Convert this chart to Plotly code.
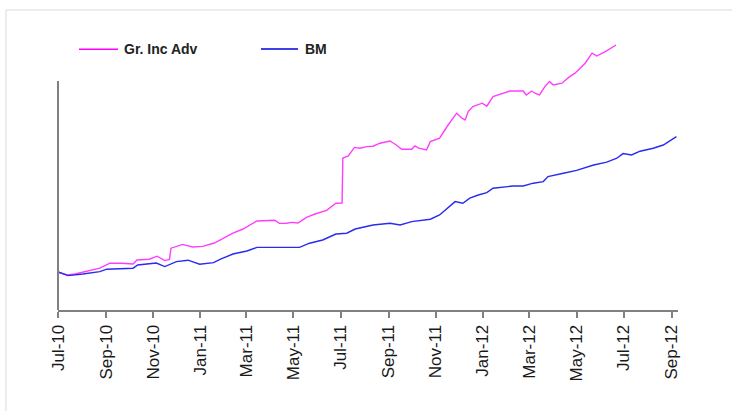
import plotly.graph_objects as go

# Cumulative index levels (start = 100)
fund_name = "Gr. Inc Adv"
bench_name = "BM"

fund_dates = [
    "2010-07-01", "2010-07-06", "2010-07-13", "2010-07-23", "2010-08-02", "2010-08-15",
    "2010-08-24", "2010-09-06", "2010-09-21", "2010-10-06", "2010-10-11", "2010-10-27",
    "2010-11-06", "2010-11-16", "2010-11-22", "2010-11-24", "2010-12-09", "2010-12-22",
    "2011-01-04", "2011-01-19", "2011-02-12", "2011-02-25", "2011-03-15", "2011-04-07",
    "2011-04-13", "2011-04-22", "2011-04-29", "2011-05-07", "2011-05-18", "2011-05-29",
    "2011-06-13", "2011-06-25", "2011-07-03", "2011-07-04", "2011-07-11", "2011-07-19",
    "2011-07-26", "2011-08-04", "2011-08-12", "2011-08-21", "2011-09-03", "2011-09-11",
    "2011-09-18", "2011-10-01", "2011-10-05", "2011-10-10", "2011-10-20", "2011-10-25",
    "2011-11-06", "2011-11-17", "2011-11-28", "2011-12-05", "2011-12-09", "2011-12-13",
    "2011-12-19", "2011-12-31", "2012-01-06", "2012-01-14", "2012-01-23", "2012-02-05",
    "2012-02-22", "2012-02-26", "2012-03-04", "2012-03-08", "2012-03-14", "2012-03-21",
    "2012-03-27", "2012-04-01", "2012-04-12", "2012-04-22", "2012-04-29", "2012-05-03",
    "2012-05-12", "2012-05-21", "2012-05-27", "2012-06-07", "2012-06-14", "2012-06-21",
]
fund_values = [
    100.0, 99.5, 98.5, 99.0, 99.9, 101.2,
    101.9, 104.4, 104.4, 104.0, 106.0, 106.4,
    107.9, 105.7, 106.3, 111.9, 113.8, 112.5,
    112.8, 114.5, 119.4, 121.5, 125.5, 125.9,
    124.3, 124.4, 124.8, 124.5, 127.3, 129.0,
    130.8, 134.4, 134.5, 157.0, 158.0, 162.3,
    161.9, 162.7, 162.9, 164.4, 165.5, 163.5,
    161.4, 161.4, 163.0, 161.9, 161.0, 165.2,
    166.9, 173.5, 179.4, 176.9, 176.0, 180.2,
    182.7, 184.4, 182.9, 187.7, 189.0, 190.5,
    190.5, 188.5, 190.5, 189.4, 188.5, 192.7,
    195.2, 193.5, 194.4, 197.7, 199.4, 201.0,
    204.4, 209.4, 208.0, 210.2, 211.9, 213.5,
]

bench_dates = [
    "2010-07-01", "2010-07-14", "2010-08-02", "2010-08-24", "2010-09-02", "2010-10-06",
    "2010-10-12", "2010-11-05", "2010-11-16", "2010-12-01", "2010-12-16", "2010-12-31",
    "2011-01-18", "2011-01-27", "2011-02-12", "2011-03-02", "2011-03-15", "2011-04-05",
    "2011-04-22", "2011-05-09", "2011-05-22", "2011-06-08", "2011-06-25", "2011-07-09",
    "2011-07-20", "2011-08-03", "2011-08-12", "2011-09-03", "2011-09-16", "2011-10-01",
    "2011-10-12", "2011-10-25", "2011-11-06", "2011-11-19", "2011-11-26", "2011-12-06",
    "2011-12-15", "2011-12-26", "2012-01-06", "2012-01-14", "2012-02-09", "2012-02-22",
    "2012-03-06", "2012-03-19", "2012-03-25", "2012-04-14", "2012-05-01", "2012-05-23",
    "2012-06-09", "2012-06-22", "2012-06-30", "2012-07-11", "2012-07-22", "2012-08-08",
    "2012-08-21", "2012-09-07",
]
bench_values = [
    100.0, 98.2, 99.0, 100.2, 101.4, 101.9,
    103.5, 104.5, 102.7, 105.2, 105.9, 103.9,
    104.7, 106.4, 109.0, 110.5, 112.3, 112.4,
    112.2, 112.3, 114.4, 116.0, 119.0, 119.4,
    121.5, 122.5, 123.5, 124.4, 123.5, 125.2,
    125.7, 126.4, 128.5, 132.7, 135.2, 134.4,
    136.9, 138.5, 139.7, 141.9, 143.0, 143.0,
    144.4, 145.2, 147.7, 149.4, 150.8, 153.5,
    154.9, 156.9, 159.2, 158.5, 160.4, 161.9,
    163.5, 167.7,
]

tick_dates = [
    "2010-07-01", "2010-09-01", "2010-11-01", "2011-01-01", "2011-03-01", "2011-05-01",
    "2011-07-01", "2011-09-01", "2011-11-01", "2012-01-01", "2012-03-01", "2012-05-01",
    "2012-07-01", "2012-09-01",
]
tick_labels = [
    "Jul-10", "Sep-10", "Nov-10", "Jan-11", "Mar-11", "May-11",
    "Jul-11", "Sep-11", "Nov-11", "Jan-12", "Mar-12", "May-12",
    "Jul-12", "Sep-12",
]

FUND_COLOR = "#FF3DFF"
BENCH_COLOR = "#2A2AF2"
AXIS_COLOR = "#808080"
FONT = "Liberation Sans, Arial, sans-serif"

fig = go.Figure()
fig.add_trace(go.Scatter(x=fund_dates, y=fund_values, mode="lines", name=fund_name,
                         line=dict(color=FUND_COLOR, width=1.4)))
fig.add_trace(go.Scatter(x=bench_dates, y=bench_values, mode="lines", name=bench_name,
                         line=dict(color=BENCH_COLOR, width=1.4)))

# plot-area geometry in pixels (used to place paper-coordinate decorations)
L, R, T, B, W, H = 58, 54, 40, 101, 732, 411
pw, ph = W - L - R, H - T - B

def px(x):
    return (x - L) / pw

def py(y):
    return (H - B - y) / ph

shapes = [
    # light outer frame (top and left edges)
    dict(type="line", xref="paper", yref="paper", x0=px(6), x1=px(732), y0=py(10), y1=py(10),
         line=dict(color="#E6E6E6", width=1.5)),
    dict(type="line", xref="paper", yref="paper", x0=px(6), x1=px(6), y0=py(10), y1=py(411),
         line=dict(color="#E6E6E6", width=1.5)),
    # value axis line (stops short of the plot top)
    dict(type="line", xref="paper", yref="paper", x0=0, x1=0, y0=0, y1=py(81),
         line=dict(color=AXIS_COLOR, width=2)),
    # legend keys
    dict(type="line", xref="paper", yref="paper", x0=px(79), x1=px(118), y0=py(49.3), y1=py(49.3),
         line=dict(color="#FF00FF", width=1.5)),
    dict(type="line", xref="paper", yref="paper", x0=px(261), x1=px(298), y0=py(49), y1=py(49),
         line=dict(color="#0000DD", width=1.5)),
]
annotations = [
    dict(xref="paper", yref="paper", x=px(122), y=py(49), text="<b>" + fund_name + "</b>",
         showarrow=False, xanchor="left", yanchor="middle",
         font=dict(family=FONT, size=14, color="#222222")),
    dict(xref="paper", yref="paper", x=px(303), y=py(49), text="<b>" + bench_name + "</b>",
         showarrow=False, xanchor="left", yanchor="middle",
         font=dict(family=FONT, size=14, color="#222222")),
]

fig.update_layout(
    width=W, height=H,
    margin=dict(l=L, r=R, t=T, b=B),
    paper_bgcolor="white", plot_bgcolor="white",
    showlegend=False,
    font=dict(family=FONT, color="#1a1a1a"),
    shapes=shapes, annotations=annotations,
    xaxis=dict(
        type="date", range=["2010-07-01", "2012-09-09"],
        tickmode="array", tickvals=tick_dates, ticktext=tick_labels,
        tickangle=-90, tickfont=dict(family=FONT, size=17, color="#1a1a1a"),
        ticks="outside", ticklen=6, tickwidth=1.5, tickcolor=AXIS_COLOR,
        showline=True, linecolor=AXIS_COLOR, linewidth=2,
        showgrid=False, zeroline=False,
    ),
    yaxis=dict(
        range=[81, 216], showticklabels=False, ticks="",
        showline=False, showgrid=False, zeroline=False,
    ),
)

fig.write_html("out.html")
